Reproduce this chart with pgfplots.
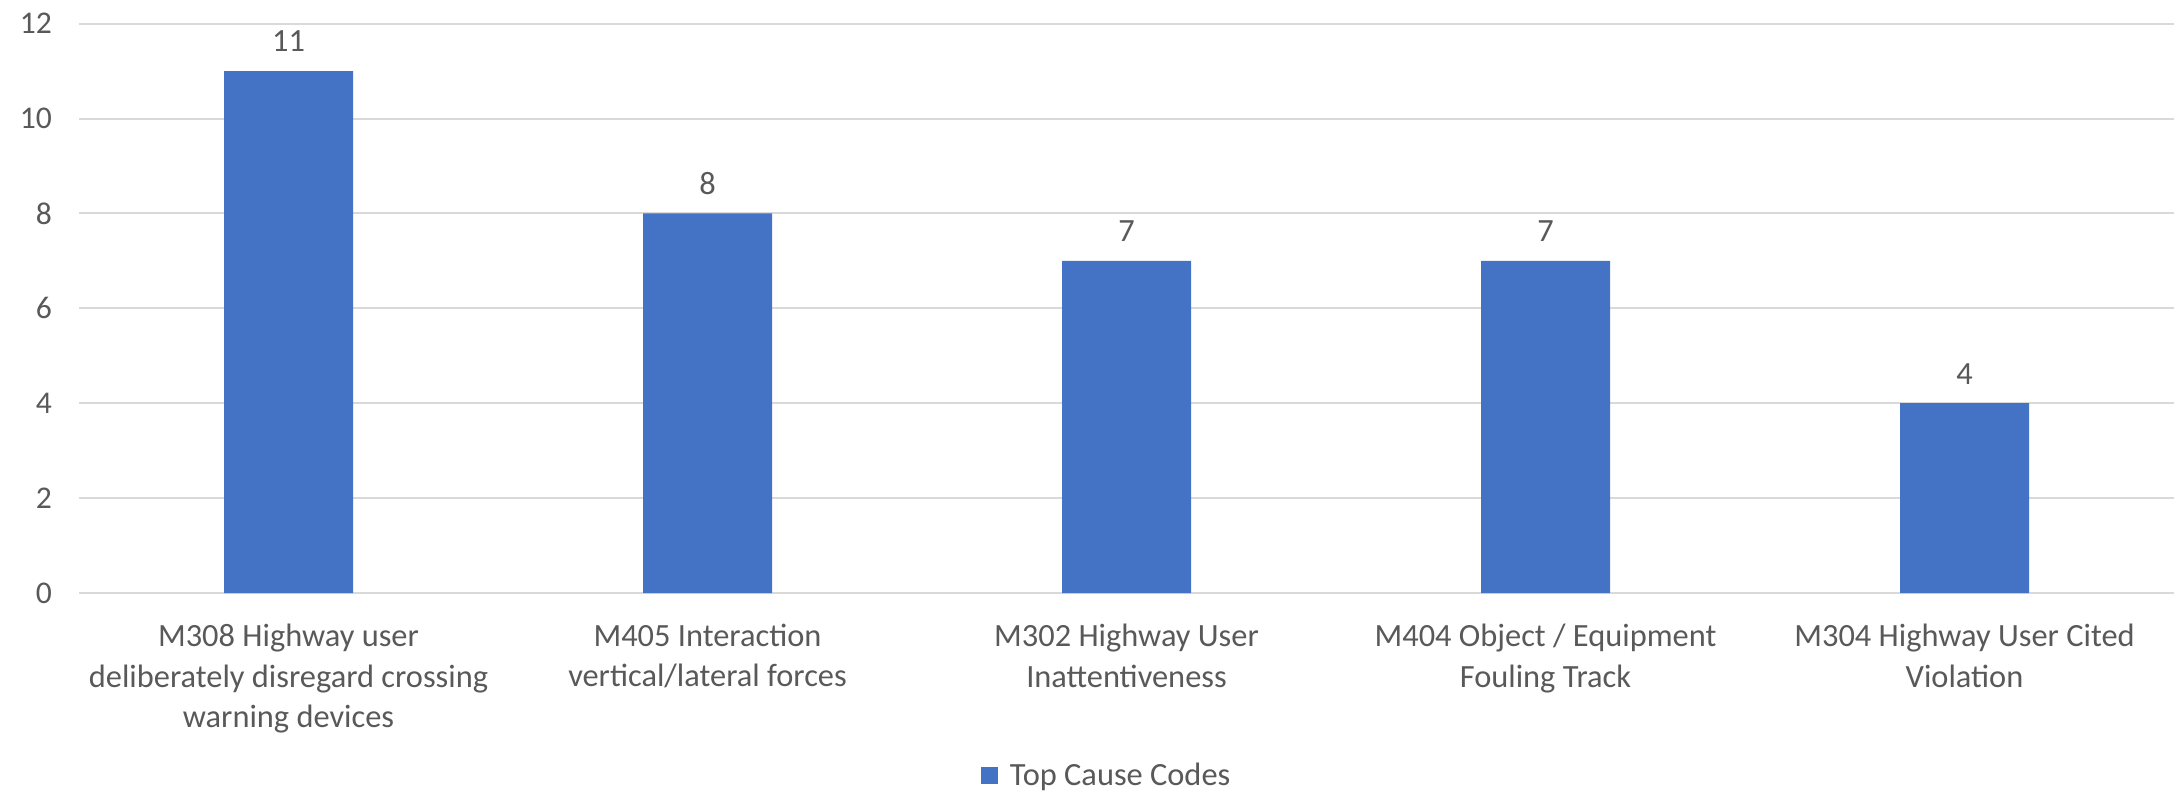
\documentclass[border=0pt]{standalone}
\usepackage{fontspec}
\setmainfont{Carlito}
\usepackage{pgfplots}
\pgfplotsset{compat=1.18}
\usetikzlibrary{calc}

\definecolor{barblue}{HTML}{4472C4}
\definecolor{gridgray}{HTML}{D9D9D9}
\definecolor{txtgray}{HTML}{595959}

\begin{document}
\begin{tikzpicture}
  \begin{axis}[
    scale only axis,
    width=1047.5pt, height=284.7pt,
    ybar, bar width=64.5pt,
    xmin=-0.5, xmax=4.5, ymin=0, ymax=12,
    xtick=data,
    xticklabels={{M308 Highway user\\deliberately disregard crossing\\warning devices},
                 {M405 Interaction\\vertical/lateral forces},
                 {M302 Highway User\\Inattentiveness},
                 {M404 Object / Equipment\\Fouling Track},
                 {M304 Highway User Cited\\Violation}},
    ytick={0,2,...,12},
    ymajorgrids, grid style={gridgray, line width=1pt},
    axis line style={draw=none},
    major tick length=0pt,
    /pgf/number format/assume math mode=true,
    tick label style={font=\fontsize{15.8}{19.5}\selectfont, text=txtgray},
    x tick label style={font=\fontsize{16.2}{20.2}\selectfont, align=center, yshift=-12pt},
    y tick label style={xshift=-10pt},
    nodes near coords,
    nodes near coords style={font=\fontsize{16.2}{20}\selectfont, text=txtgray, yshift=6pt},
    legend style={at={(0.491,-0.32)}, anchor=center, draw=none,
                  font=\fontsize{16.2}{20}\selectfont, text=txtgray,
                  /tikz/every odd column/.append style={column sep=4pt}},
    legend image code/.code={\fill[barblue] (0pt,-4.25pt) rectangle (8.5pt,4.25pt);},
  ]
    \addplot[fill=barblue, draw=none] coordinates {(0,11) (1,8) (2,7) (3,7) (4,4)};
    \addlegendentry{Top Cause Codes}
  \end{axis}
  \pgfresetboundingbox
  \path ($(current axis.south west)+(-39.5pt,-99.5pt)$) rectangle ($(current axis.north east)+(2pt,11.8pt)$);
\end{tikzpicture}
\end{document}
